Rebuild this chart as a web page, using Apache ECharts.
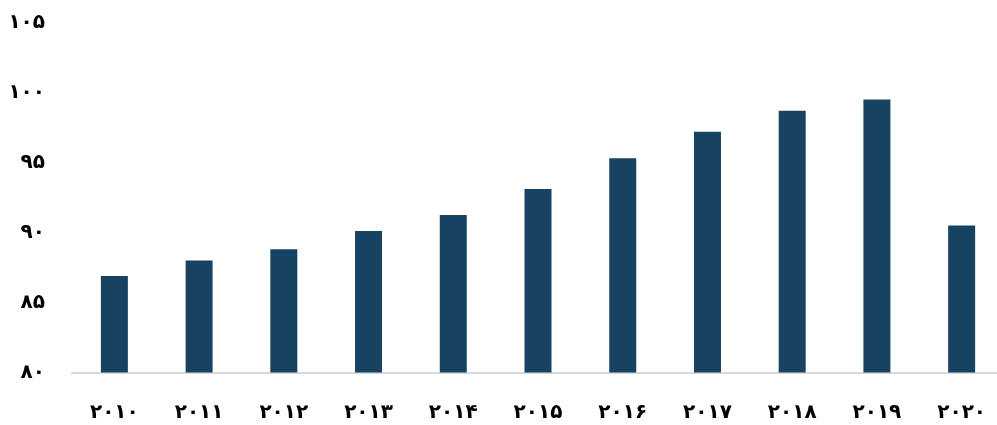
<!DOCTYPE html>
<html>
<head>
<meta charset="utf-8">
<script src="https://cdn.jsdelivr.net/npm/echarts@6/dist/echarts.min.js"></script>
<style>
html,body{margin:0;padding:0;background:#fff;}
#chart{width:997px;height:425px;}
</style>
</head>
<body>
<div id="chart"></div>
<script>
const categories = ['۲۰۱۰','۲۰۱۱','۲۰۱۲','۲۰۱۳','۲۰۱۴','۲۰۱۵','۲۰۱۶','۲۰۱۷','۲۰۱۸','۲۰۱۹','۲۰۲۰'];
const values = [86.9, 88.0, 88.8, 90.1, 91.25, 93.1, 95.3, 97.2, 98.7, 99.5, 90.5];
const yTickLabels = {80:'۸۰', 85:'۸۵', 90:'۹۰', 95:'۹۵', 100:'۱۰۰', 105:'۱۰۵'};

const chart = echarts.init(document.getElementById('chart'));
chart.setOption({
  animation: false,
  backgroundColor: '#ffffff',
  grid: {left: 72, right: -7, top: 22.5, bottom: 52.5, containLabel: false, outerBoundsMode: 'none'},
  xAxis: {
    type: 'category',
    data: categories,
    axisLine: {show: true, lineStyle: {color: '#d9d9d9', width: 2}},
    axisTick: {show: false},
    axisLabel: {color: '#000', fontFamily: 'DejaVu Sans', fontWeight: 'bold', fontSize: 20, margin: 30}
  },
  yAxis: {
    type: 'value',
    min: 80, max: 105, interval: 5,
    axisLine: {show: false},
    axisTick: {show: false},
    splitLine: {show: false},
    axisLabel: {
      color: '#000', fontFamily: 'DejaVu Sans', fontWeight: 'bold', fontSize: 20, margin: 27,
      formatter: v => yTickLabels[v] !== undefined ? yTickLabels[v] : ''
    }
  },
  series: [{
    type: 'bar',
    data: values,
    barWidth: 27,
    itemStyle: {color: '#174262'}
  }]
});
</script>
</body>
</html>
